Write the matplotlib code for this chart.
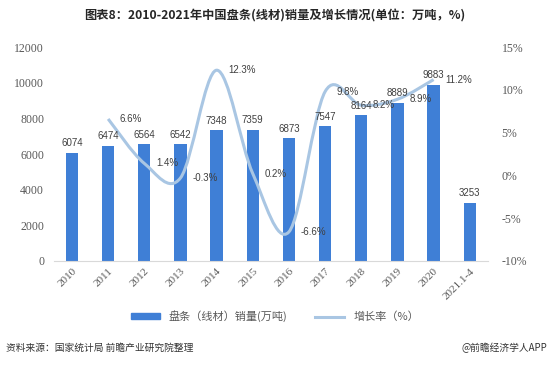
import matplotlib
matplotlib.use("Agg")
import matplotlib.pyplot as plt
from matplotlib.path import Path
from matplotlib.patches import PathPatch
import numpy as np

plt.rcParams['font.family'] = ['Noto Sans CJK SC', 'DejaVu Sans']

years = ["2010", "2011", "2012", "2013", "2014", "2015", "2016",
         "2017", "2018", "2019", "2020", "2021.1-4"]
sales = [6074, 6474, 6564, 6542, 7348, 7359, 6873, 7547, 8164, 8889, 9883, 3253]
growth = [None, 6.6, 1.4, -0.3, 12.3, 0.2, -6.6, 9.8, 8.2, 8.9, 11.2, None]

bar_color = "#3f7fd6"
line_color = "#a9c6e3"
txt = "#404040"


def smooth_path(xs, ys):
    # excel-like smoothed line: catmull-rom segments as cubic bezier
    pts = list(zip(xs, ys))
    verts = [pts[0]]
    codes = [Path.MOVETO]
    n = len(pts)
    for i in range(n - 1):
        p0 = pts[i - 1] if i > 0 else pts[i]
        p1 = pts[i]
        p2 = pts[i + 1]
        p3 = pts[i + 2] if i + 2 < n else pts[i + 1]
        c1 = (p1[0] + (p2[0] - p0[0]) / 6, p1[1] + (p2[1] - p0[1]) / 6)
        c2 = (p2[0] - (p3[0] - p1[0]) / 6, p2[1] - (p3[1] - p1[1]) / 6)
        verts += [c1, c2, p2]
        codes += [Path.CURVE4] * 3
    return Path(verts, codes)


fig = plt.figure(figsize=(5.5, 3.68), dpi=100)
ax = fig.add_axes([0.098, 0.291, 0.789, 0.581])
x = np.arange(len(years))

ax.bar(x, sales, width=0.34, color=bar_color, zorder=2)

ax.set_ylim(0, 12000)
ax.set_yticks(range(0, 12001, 2000))
ax.set_xlim(-0.5, len(years) - 0.5)
ax.set_xticks(x)
ax.set_xticklabels(years, rotation=45, ha="right", rotation_mode="anchor",
                   family="Liberation Serif", fontsize=8, color="#595959")
for lab in ax.get_yticklabels():
    lab.set_family("Liberation Serif")
ax.tick_params(axis="y", length=0, labelsize=8.5, labelcolor="#595959", pad=7)
ax.tick_params(axis="x", length=0, pad=4)
for s in ["top", "right", "left"]:
    ax.spines[s].set_visible(False)
ax.spines["bottom"].set_color("#d9d9d9")

ax2 = ax.twinx()
ax2.set_ylim(-10, 15)
ax2.set_yticks(range(-10, 16, 5))
ax2.set_yticklabels([f"{t}%" for t in range(-10, 16, 5)],
                    family="Liberation Serif")
ax2.tick_params(axis="y", length=0, labelsize=8.5, labelcolor="#595959", pad=10)
for s in ax2.spines.values():
    s.set_visible(False)

gx = [xi for xi, g in zip(x, growth) if g is not None]
gy = [g for g in growth if g is not None]
ax2.add_patch(PathPatch(smooth_path(gx, gy), facecolor="none",
                        edgecolor=line_color, lw=2.2, zorder=3))

# bar labels drawn on the top axes so the line doesn't hide them
for xi, v in zip(x, sales):
    ax2.text(xi, v + 250, str(v), ha="center", va="bottom", fontsize=7,
             color=txt, family="Liberation Sans", zorder=5,
             transform=ax.transData)
for xi, g in zip(gx, gy):
    ax2.annotate(f"{g}%", (xi, g), xytext=(8.5, 0), textcoords="offset points",
                 ha="left", va="center", fontsize=7, color=txt,
                 family="Liberation Sans", zorder=6)

fig.text(0.5, 0.957, "图表8：2010-2021年中国盘条(线材)销量及增长情况(单位：万吨，%)",
         ha="center", va="center", fontsize=8.8, fontweight="bold", color="#262626")

# legend
handles = [plt.Rectangle((0, 0), 1, 1, color=bar_color),
           plt.Line2D([0], [0], color=line_color, lw=2.2)]
fig.legend(handles, ["盘条（线材）销量(万吨)", "增长率（%）"], loc="center",
           bbox_to_anchor=(0.5, 0.14), ncol=2, frameon=False, fontsize=8,
           labelcolor="#595959", handlelength=2.6, handleheight=0.5,
           columnspacing=2.5)

fig.text(0.01, 0.055, "资料来源：国家统计局 前瞻产业研究院整理", ha="left",
         va="center", fontsize=7, color="#333333")
fig.text(0.995, 0.055, "@前瞻经济学人APP", ha="right", va="center",
         fontsize=7, color="#333333")

fig.savefig("out.png", dpi=100, facecolor="white")
